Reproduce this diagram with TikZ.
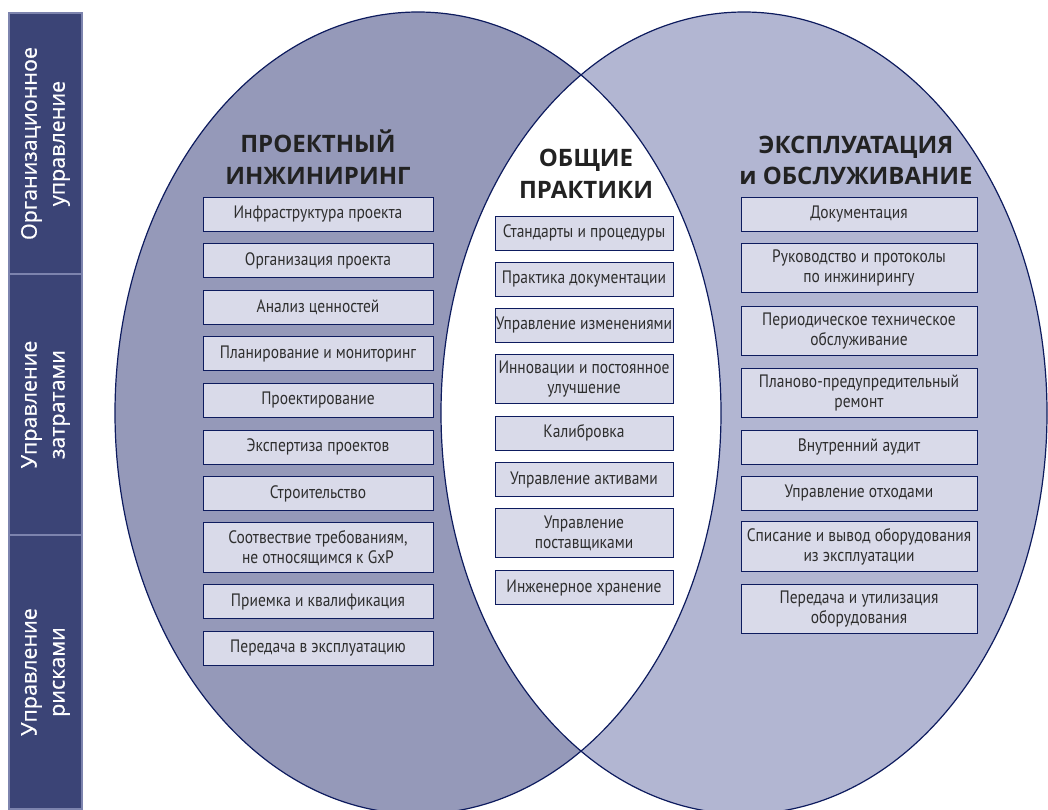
\documentclass[tikz,border=0pt]{standalone}
\usepackage{fontspec}
\setmainfont{Open Sans}
\newfontfamily\boxfont[FakeStretch=0.86]{PT Sans}
\newfontfamily\sidefont[FakeBold=0.6]{Open Sans}

\definecolor{navy}{HTML}{0D1B5E}
\definecolor{leftfill}{HTML}{9599B9}
\definecolor{rightfill}{HTML}{B2B6D2}
\definecolor{sidefill}{HTML}{3B4476}
\definecolor{sideline}{HTML}{7D84AE}
\definecolor{boxfill}{HTML}{D9DAE9}
\definecolor{textgray}{HTML}{2E2E2E}
\definecolor{headgray}{HTML}{222222}

\tikzset{
  sidebox/.style={draw=sideline, fill=sidefill, line width=1.5pt, rotate=90,
    minimum height=73pt, inner sep=0pt, text=white, align=center,
    font=\sidefont\fontsize{21.5}{28}\selectfont},
  pbox/.style={draw=navy, fill=boxfill, line width=1pt, text=textgray,
    align=center, inner sep=0pt, minimum height=34pt,
    font=\boxfont\fontsize{18}{20}\selectfont},
  lbox/.style={pbox, minimum width=230pt},
  mbox/.style={pbox, minimum width=178pt},
  rbox/.style={pbox, minimum width=236pt},
  tall/.style={minimum height=49.5pt},
  head/.style={font=\bfseries\fontsize{24}{31.5}\selectfont,
    text=headgray, align=center}
}

\begin{document}
\begin{tikzpicture}[x=1pt,y=-1pt]
\useasboundingbox (0,0) rectangle (1048,809);

% two circles of the diagram
\begin{scope}
\clip (0,0) rectangle (1048,809);
\fill[leftfill] (418,413) ellipse [x radius=303, y radius=401];
\fill[rightfill] (744,413) ellipse [x radius=303, y radius=401];
\begin{scope}
\clip (418,413) ellipse [x radius=303, y radius=401];
\fill[white] (744,413) ellipse [x radius=303, y radius=401];
\end{scope}
\draw[navy, line width=1.2pt] (418,413) ellipse [x radius=303, y radius=401];
\draw[navy, line width=1.2pt] (744,413) ellipse [x radius=303, y radius=401];
\end{scope}

% side bar
\node[sidebox, minimum width=261pt] (orgmgmt) at (45.5,143.5) {Организационное\\управление};
\node[sidebox, minimum width=261pt] (costmgmt) at (45.5,404.5) {Управление\\затратами};
\node[sidebox, minimum width=274pt] (riskmgmt) at (45.5,672) {Управление\\рисками};

% left: project engineering
\node[head] (projhead) at (318,157) {ПРОЕКТНЫЙ\\ИНЖИНИРИНГ};
\node[lbox] (infra) at (318,214) {Инфраструктура проекта};
\node[lbox] (projorg) at (318,260.6) {Организация проекта};
\node[lbox] (value) at (318,307.2) {Анализ ценностей};
\node[lbox] (planning) at (318,353.8) {Планирование и мониторинг};
\node[lbox] (design) at (318,400.4) {Проектирование};
\node[lbox] (review) at (318,447) {Экспертиза проектов};
\node[lbox] (build) at (318,493.6) {Строительство};
\node[lbox, tall] (nongxp) at (318,547.7) {Соотвествие требованиям,\\не относящимся к GxP};
\node[lbox] (qualif) at (318,601.8) {Приемка и квалификация};
\node[lbox] (handover) at (318,648.4) {Передача в эксплуатацию};

% middle: common practices
\node[head] (commonhead) at (586,174) {ОБЩИЕ\\ПРАКТИКИ};
\node[mbox] (standards) at (584,233) {Стандарты и процедуры};
\node[mbox] (docpractice) at (584,279) {Практика документации};
\node[mbox] (change) at (584,325) {Управление изменениями};
\node[mbox, tall] (improve) at (584,379) {Инновации и постоянное\\улучшение};
\node[mbox] (calib) at (584,433) {Калибровка};
\node[mbox] (assets) at (584,479.5) {Управление активами};
\node[mbox, tall] (suppliers) at (584,533) {Управление\\поставщиками};
\node[mbox] (storage) at (584,587.5) {Инженерное хранение};

% right: operation and maintenance
\node[head] (opshead) at (856,160.5) {ЭКСПЛУАТАЦИЯ\\и ОБСЛУЖИВАНИЕ};
\node[rbox] (docs) at (859,214) {Документация};
\node[rbox, tall] (guides) at (859,268) {Руководство и протоколы\\по инжинирингу};
\node[rbox, tall] (periodic) at (859,331) {Периодическое техническое\\обслуживание};
\node[rbox, tall] (preventive) at (859,393) {Планово-предупредительный\\ремонт};
\node[rbox] (audit) at (859,447) {Внутренний аудит};
\node[rbox] (waste) at (859,493) {Управление отходами};
\node[rbox, tall] (retire) at (859,546.5) {Списание и вывод оборудования\\из эксплуатации};
\node[rbox, tall] (disposal) at (859,609) {Передача и утилизация\\оборудования};

\end{tikzpicture}
\end{document}
